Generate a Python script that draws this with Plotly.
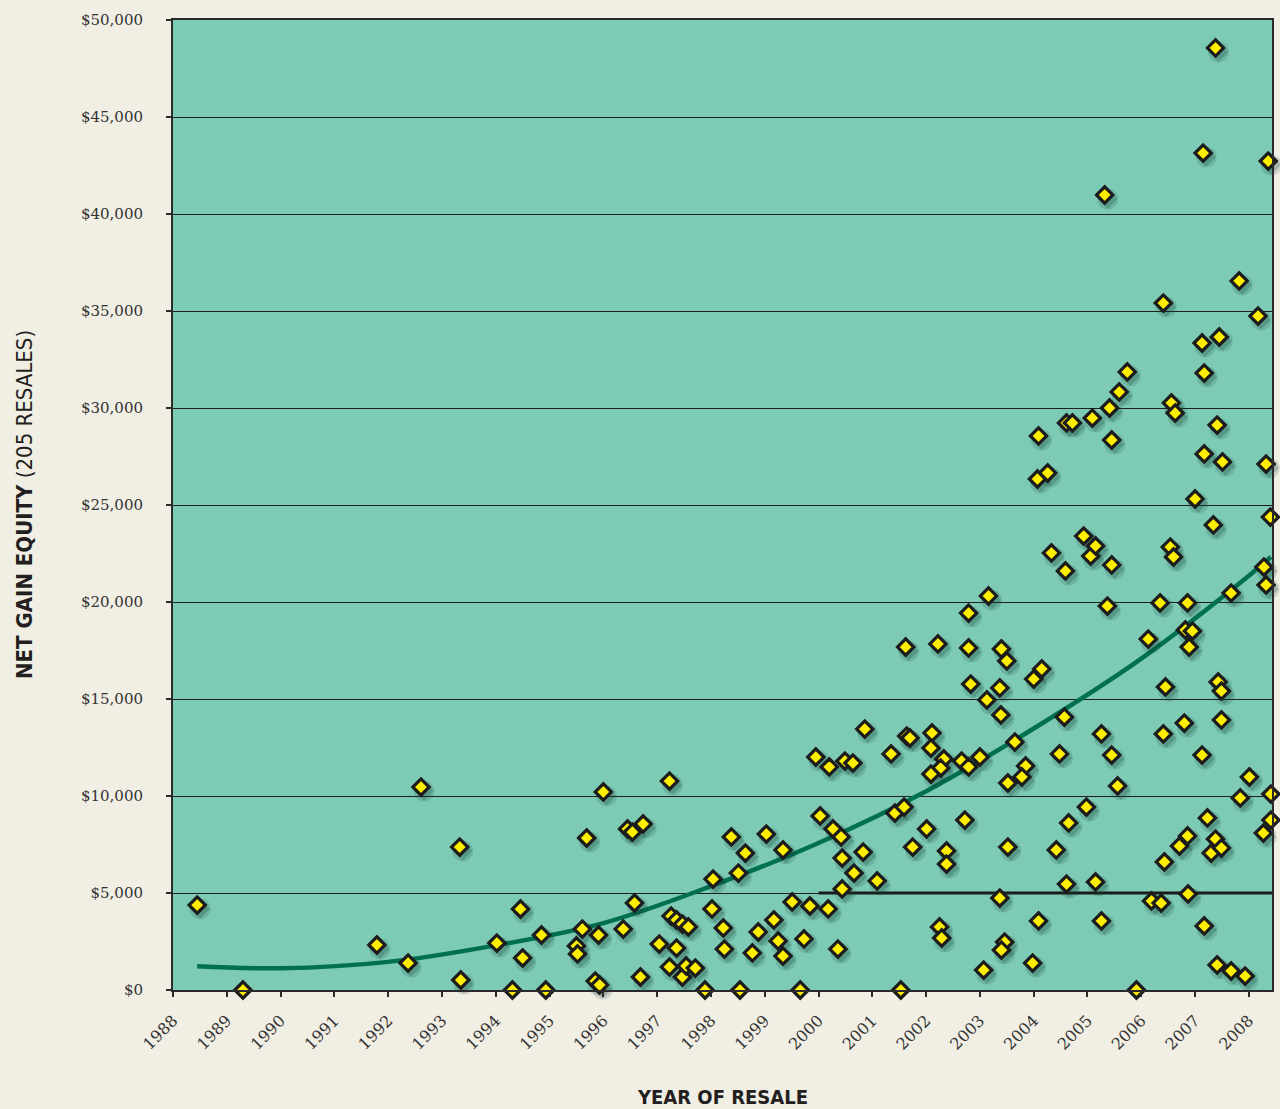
import plotly.graph_objects as go

# ---- data ----
resale_year = [
    1988.45, 1989.30, 1991.79, 1992.37, 1992.61, 1993.33, 1993.35, 1994.02, 1994.31, 1994.46,
    1994.50, 1994.85, 1994.93, 1995.50, 1995.52, 1995.61, 1995.69, 1995.85, 1995.93, 1995.91,
    1996.00, 1996.37, 1996.45, 1996.54, 1996.74, 1996.58, 1996.69, 1997.04, 1997.23, 1997.23,
    1997.26, 1997.36, 1997.47, 1997.58, 1997.36, 1997.47, 1997.54, 1997.71, 1997.89, 1998.02,
    1998.04, 1998.23, 1998.25, 1998.38, 1998.54, 1998.51, 1998.64, 1998.77, 1998.88, 1999.03,
    1999.17, 1999.25, 1999.34, 1999.34, 1999.51, 1999.66, 1999.73, 1999.84, 1999.95, 2000.03,
    2000.18, 2000.20, 2000.27, 2000.42, 2000.44, 2000.44, 2000.36, 2000.49, 2000.64, 2000.66,
    2000.83, 2000.86, 2001.09, 2001.35, 2001.42, 2001.59, 2001.53, 2001.62, 2001.64, 2001.70,
    2001.75, 2002.01, 2002.11, 2002.09, 2002.22, 2002.33, 2002.27, 2002.09, 2002.25, 2002.29,
    2002.38, 2002.38, 2002.66, 2002.79, 2003.00, 2002.72, 2002.79, 2002.79, 2003.16, 2002.83,
    2003.13, 2003.07, 2003.37, 2003.40, 2003.50, 2003.39, 2003.65, 2003.85, 2003.78, 2003.52,
    2003.52, 2003.37, 2003.46, 2003.40, 2004.00, 2004.15, 2003.98, 2004.09, 2004.09, 2004.07,
    2004.26, 2004.33, 2004.59, 2004.57, 2004.48, 2004.42, 2004.61, 2004.65, 2004.61, 2004.72,
    2004.93, 2005.06, 2005.15, 2005.09, 2004.98, 2005.15, 2005.26, 2005.26, 2005.32, 2005.37,
    2005.41, 2005.45, 2005.45, 2005.45, 2005.56, 2005.59, 2005.74, 2005.91, 2006.13, 2006.19,
    2006.37, 2006.35, 2006.41, 2006.41, 2006.45, 2006.43, 2006.54, 2006.60, 2006.56, 2006.63,
    2006.71, 2006.80, 2006.82, 2006.95, 2006.86, 2006.89, 2006.86, 2006.87, 2007.00, 2007.13,
    2007.15, 2007.17, 2007.17, 2007.13, 2007.17, 2007.23, 2007.30, 2007.34, 2007.38, 2007.38,
    2007.41, 2007.43, 2007.49, 2007.49, 2007.49, 2007.41, 2007.45, 2007.51, 2007.67, 2007.67,
    2007.82, 2007.84, 2007.93, 2008.01, 2008.17, 2008.27, 2008.28, 2008.32, 2008.32, 2008.36,
    2008.40, 2008.41, 2008.41,
]
net_gain_equity = [
    4380, 0, 2320, 1390, 10460, 7370, 515, 2420, 0, 4175,
    1650, 2835, 0, 2270, 1860, 3140, 7835, 460, 260, 2835,
    10210, 3140, 8300, 8140, 8560, 4485, 670, 2370, 10770, 1190,
    3810, 3610, 3400, 3250, 2160, 670, 1240, 1130, 0, 4180,
    5720, 3200, 2110, 7890, 0, 6030, 7060, 1910, 2990, 8040,
    3610, 2530, 7220, 1750, 4540, 0, 2630, 4330, 12010, 8970,
    4180, 11500, 8300, 7890, 6800, 5210, 2110, 11800, 11700, 6030,
    7110, 13450, 5620, 12170, 9120, 9430, 0, 17680, 13090, 12990,
    7370, 8300, 13250, 12470, 17840, 11910, 11440, 11130, 3250, 2680,
    7170, 6490, 11800, 11500, 12010, 8760, 17630, 19430, 20310, 15770,
    14950, 1030, 15570, 17580, 16960, 14180, 12780, 11550, 10980, 10670,
    7370, 4740, 2470, 2060, 16030, 16550, 1390, 3560, 28560, 26340,
    26650, 22530, 21600, 14070, 12170, 7220, 5460, 8610, 29230, 29230,
    23400, 22370, 22890, 29480, 9430, 5570, 3560, 13200, 40980, 19790,
    30000, 28350, 21910, 12110, 10520, 30830, 31860, 0, 18090, 4590,
    4480, 19950, 35410, 13200, 15620, 6600, 22830, 22320, 30260, 29740,
    7420, 13760, 18560, 18500, 19950, 17680, 7940, 4950, 25310, 33350,
    43140, 31800, 27630, 12110, 3300, 8870, 7060, 23970, 48560, 7780,
    29120, 15880, 15410, 13920, 7320, 1290, 33660, 27220, 20460, 980,
    36550, 9900, 720, 10980, 34740, 8090, 21800, 20880, 27110, 42730,
    24380, 10100, 8760,
]

# trend line
trend_year = [1988.45, 1990, 1992, 1994, 1996, 1998, 2000, 2002, 2004, 2006, 2008, 2008.41]
trend_value = [1230, 1120, 1450, 2300, 3450, 5350, 7580, 10250, 13480, 17080, 21350, 22320]

year_ticks = list(range(1988, 2009))
equity_ticks = list(range(0, 50001, 5000))

# highlighted reference line
highlight_start_year = 2000
highlight_value = 5000

X_RANGE = [1988, 2008.43]
Y_RANGE = [0, 50000]
PLOT_W_PX, PLOT_H_PX = 1101, 970

PAPER = "#F1EEE4"
PLOT_BG = "#7DCAB5"
INK = "#2a2a2a"

# soft drop-shadow offset (pixels -> data units)
sx = 3 * (X_RANGE[1] - X_RANGE[0]) / PLOT_W_PX
sy = 4 * (Y_RANGE[1] - Y_RANGE[0]) / PLOT_H_PX

fig = go.Figure()

fig.add_trace(go.Scatter(
    x=trend_year, y=trend_value, mode="lines",
    line=dict(color="#00704F", width=4.5, shape="spline"),
    hoverinfo="skip", showlegend=False,
))

fig.add_trace(go.Scatter(
    x=[v + sx for v in resale_year], y=[v - sy for v in net_gain_equity], mode="markers",
    marker=dict(symbol="circle", size=21, color="rgba(20,70,55,0.16)", line=dict(width=0)),
    cliponaxis=False, hoverinfo="skip", showlegend=False,
))
fig.add_trace(go.Scatter(
    x=[v + sx for v in resale_year], y=[v - sy for v in net_gain_equity], mode="markers",
    marker=dict(symbol="diamond", size=15, color="rgba(20,60,45,0.22)", line=dict(width=0)),
    cliponaxis=False, hoverinfo="skip", showlegend=False,
))

fig.add_trace(go.Scatter(
    x=resale_year, y=net_gain_equity, mode="markers",
    marker=dict(symbol="diamond", size=12.5, color="#FFEE00",
                line=dict(color="#1c1c1c", width=3.2)),
    cliponaxis=False, showlegend=False,
))

fig.add_shape(type="line", xref="x", yref="y",
              x0=highlight_start_year, x1=X_RANGE[1],
              y0=highlight_value, y1=highlight_value,
              line=dict(color="#1a1a1a", width=3), layer="below")

ytick_font = dict(family="DejaVu Serif, Liberation Serif, serif", size=15, color="#333333")
xtick_font = dict(family="DejaVu Serif, Liberation Serif, serif", size=16, color="#333333")
ytitle_font = dict(family="Liberation Sans Narrow, DejaVu Sans Condensed, Roboto, sans-serif",
                   size=22, color="#231f20")
xtitle_font = dict(family="Liberation Sans Narrow, DejaVu Sans Condensed, Roboto, sans-serif",
                   size=20, color="#231f20")

fig.update_layout(
    width=1280, height=1109,
    margin=dict(l=173, r=6, t=20, b=119),
    paper_bgcolor=PAPER, plot_bgcolor=PLOT_BG,
    showlegend=False,
    xaxis=dict(
        range=X_RANGE, tickvals=year_ticks, ticktext=[str(y) for y in year_ticks],
        tickangle=-45, ticks="outside", ticklen=5, tickwidth=1.5, tickcolor=INK,
        showgrid=False, zeroline=False,
        showline=True, linecolor=INK, linewidth=2, mirror=True,
        tickfont=xtick_font, ticklabelstandoff=8,
    ),
    yaxis=dict(
        range=Y_RANGE, tickvals=equity_ticks,
        ticktext=["${:,}".format(v) for v in equity_ticks],
        ticks="outside", ticklen=5, tickwidth=1.5, tickcolor=INK,
        showgrid=True, gridcolor="#1f1f1f", gridwidth=1.3, zeroline=False,
        showline=True, linecolor=INK, linewidth=2, mirror=True,
        tickfont=ytick_font, ticklabelstandoff=20,
    ),
    annotations=[
        dict(text="<b>NET GAIN EQUITY</b> (205 RESALES)", xref="paper", yref="paper",
             x=0, y=0.5, xshift=-149, xanchor="center", yanchor="middle", textangle=-90,
             showarrow=False, font=ytitle_font),
        dict(text="<b>YEAR OF RESALE</b>", xref="paper", yref="paper",
             x=0.5, y=0, yshift=-107, xanchor="center", yanchor="middle",
             showarrow=False, font=xtitle_font),
    ],
)

fig.write_html("out.html", config={"displayModeBar": False},
               post_script="document.body.style.margin='0';")
